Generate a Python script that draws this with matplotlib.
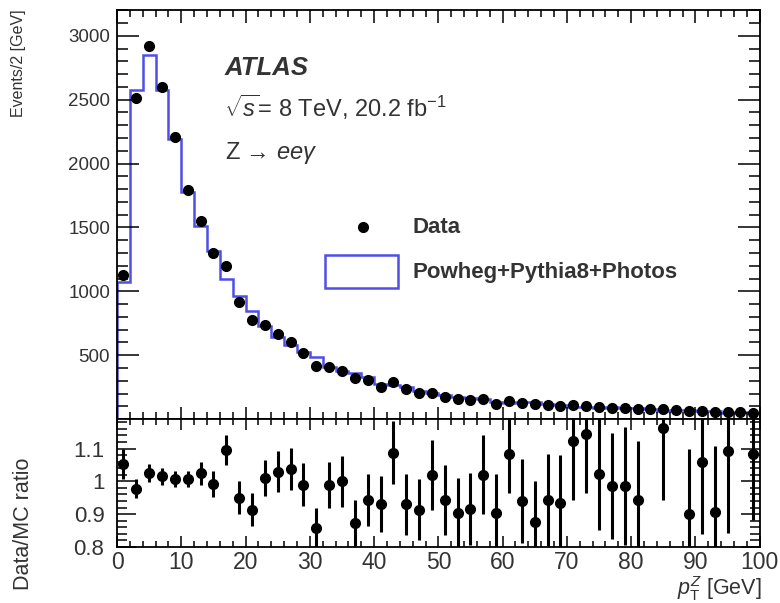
import numpy as np
import matplotlib.pyplot as plt
from matplotlib.patches import Rectangle
from matplotlib.lines import Line2D
from matplotlib.ticker import MultipleLocator, FuncFormatter

plt.rcParams['font.family'] = ['Liberation Sans', 'DejaVu Sans']
plt.rcParams['mathtext.fontset'] = 'custom'
plt.rcParams['mathtext.rm'] = 'Liberation Sans'
plt.rcParams['mathtext.it'] = 'Liberation Sans:italic'
plt.rcParams['mathtext.bf'] = 'Liberation Sans:bold'

TXT = '#333333'
MC_COL = '#4f4fe6'

# pT(Z) binning, 2 GeV wide bins from 0 to 100 GeV
bin_edges = np.arange(0, 101, 2)

# events per bin, data
data_evt = [1130, 2515, 2918, 2603, 2207, 1795, 1553, 1302, 1198, 917,
            773, 734, 664, 604, 520, 416, 404, 377, 318, 307,
            255, 291, 234, 203, 208, 174, 156, 151, 160, 117,
            140, 124, 115, 110, 105, 110, 104, 92, 90, 86,
            80, 82, 76, 70, 62, 66, 58, 56, 55, 50]

# events per bin, Powheg+Pythia8+Photos prediction
mc_evt = [1075, 2572, 2847, 2575, 2190, 1781, 1515, 1314, 1094, 965,
          847, 727, 645, 582, 525, 485, 408, 377, 364, 326,
          274, 267, 252, 222, 204, 185, 172, 165, 157, 130,
          129, 132, 131, 117, 112, 98, 91, 90, 91, 87,
          85, 78, 65, 68, 69, 62, 64, 51, 52, 46]

# data/MC ratio and its uncertainty (nan = outside the ratio range)
ratio = [1.053, 0.978, 1.025, 1.015, 1.008, 1.008, 1.025, 0.991, 1.095, 0.950,
         0.913, 1.010, 1.030, 1.038, 0.990, 0.858, 0.990, 1.000, 0.873, 0.943,
         0.930, 1.088, 0.930, 0.913, 1.020, 0.943, 0.905, 0.915, 1.020, 0.903,
         1.083, 0.940, 0.875, 0.943, 0.935, 1.123, 1.145, 1.023, 0.985, 0.985,
         0.943, np.nan, 1.163, np.nan, 0.900, 1.058, 0.908, 1.093, np.nan, 1.083]
ratio_err = [0.047, 0.030, 0.027, 0.025, 0.025, 0.025, 0.035, 0.040, 0.045, 0.050,
             0.050, 0.055, 0.062, 0.065, 0.065, 0.060, 0.070, 0.077, 0.070, 0.080,
             0.085, 0.095, 0.093, 0.093, 0.107, 0.107, 0.105, 0.110, 0.120, 0.120,
             0.120, 0.128, 0.125, 0.140, 0.145, 0.180, 0.180, 0.170, 0.162, 0.180,
             0.180, np.nan, 0.220, np.nan, 0.200, 0.220, 0.200, 0.250, np.nan, 0.200]

centers = 0.5 * (bin_edges[:-1] + bin_edges[1:])

fig = plt.figure(figsize=(7.8, 6.03), dpi=100)
ax = fig.add_axes([0.150, 0.305, 0.824, 0.678])
rax = fig.add_axes([0.150, 0.093, 0.824, 0.212], sharex=ax)

# --- upper pad: distribution ---
ax.stairs(mc_evt, bin_edges, color=MC_COL, lw=1.8)
ax.plot(centers, data_evt, 'o', color='black', ms=7, zorder=3)

ax.set_xlim(0, 100)
ax.set_ylim(0, 3200)
ax.xaxis.set_major_locator(MultipleLocator(10))
ax.xaxis.set_minor_locator(MultipleLocator(2))
ax.yaxis.set_major_locator(MultipleLocator(500))
ax.yaxis.set_minor_locator(MultipleLocator(100))
ax.yaxis.set_major_formatter(FuncFormatter(lambda v, p: '' if v == 0 else '%d' % v))
ax.tick_params(which='both', direction='in', top=True, right=True,
               labelbottom=False, colors='black', labelcolor=TXT, width=1.1)
ax.tick_params(axis='y', which='major', length=16, labelsize=13.5, pad=5)
ax.tick_params(axis='y', which='minor', length=8)
ax.tick_params(axis='x', which='major', length=9)
ax.tick_params(axis='x', which='minor', length=5)

fig.text(0.024, 0.985, 'Events/2 [GeV]', rotation=90, ha='center', va='top',
         fontsize=11.5, color=TXT)

ax.text(0.168, 0.858, 'ATLAS', transform=ax.transAxes, fontsize=18.5,
        fontweight='bold', fontstyle='italic', color=TXT, va='center')
ax.text(0.166, 0.763, r'$\sqrt{s}$= 8 TeV, 20.2 fb$^{-1}$', transform=ax.transAxes,
        fontsize=17, color=TXT, va='center')
ax.text(0.168, 0.650, r'Z → $ee\gamma$', transform=ax.transAxes,
        fontsize=17, color=TXT, va='center')

# legend drawn by hand, ROOT-like layout
ax.add_line(Line2D([0.383], [0.469], marker='o', color='black', ms=7,
                   transform=ax.transAxes))
ax.text(0.459, 0.469, 'Data', transform=ax.transAxes, fontsize=16,
        fontweight='bold', color=TXT, va='center')
ax.add_patch(Rectangle((0.323, 0.320), 0.1135, 0.0807, transform=ax.transAxes,
                       facecolor='white', edgecolor=MC_COL, lw=1.8))
ax.text(0.459, 0.359, 'Powheg+Pythia8+Photos', transform=ax.transAxes,
        fontsize=16, fontweight='bold', color=TXT, va='center')

# --- lower pad: ratio ---
rax.errorbar(centers, ratio, yerr=ratio_err, fmt='o', color='black', ms=7,
             elinewidth=2.2, capsize=0)
rax.set_ylim(0.8, 1.19)
rax.xaxis.set_major_locator(MultipleLocator(10))
rax.xaxis.set_minor_locator(MultipleLocator(2))
rax.yaxis.set_major_locator(MultipleLocator(0.1))
rax.yaxis.set_minor_locator(MultipleLocator(0.02))
rax.yaxis.set_major_formatter(FuncFormatter(lambda v, p: '%g' % round(v, 2)))
rax.xaxis.set_major_formatter(FuncFormatter(lambda v, p: '%d' % v))
rax.tick_params(which='both', direction='in', top=True, right=True,
                colors='black', labelcolor=TXT, width=1.1)
rax.tick_params(axis='y', which='major', length=14, labelsize=16, pad=9)
rax.tick_params(axis='y', which='minor', length=7)
rax.tick_params(axis='x', which='major', length=8, labelsize=16.5, pad=3)
rax.tick_params(axis='x', which='minor', length=4)

fig.text(0.030, 0.022, 'Data/MC ratio', rotation=90, ha='center', va='bottom',
         fontsize=15.5, color=TXT)
fig.text(0.977, 0.0, r'$p_{\mathrm{T}}^{Z}$ [GeV]', ha='right', va='bottom',
         fontsize=15.5, color=TXT)

for a in (ax, rax):
    for s in a.spines.values():
        s.set_linewidth(1.3)

fig.savefig('out.png', dpi=100)
